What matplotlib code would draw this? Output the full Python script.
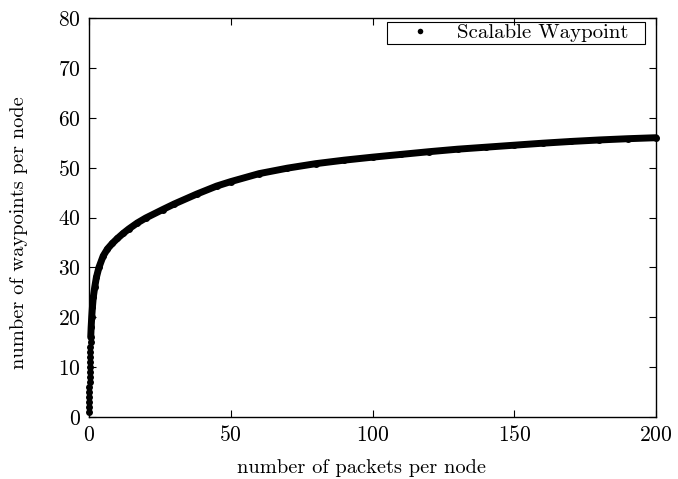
import numpy as np
import matplotlib.pyplot as plt
from matplotlib.patches import Rectangle

# values
packets = [0, 0.02, 0.05, 0.08, 0.1, 0.13, 0.17, 0.2, 0.24, 0.28, 0.32, 0.37,
           0.42, 0.48, 0.54, 0.6, 0.75, 0.95, 1.2, 1.5, 2.0, 2.6, 3.5, 5, 6.5,
           8.2, 10, 12, 14, 17, 20, 26, 30, 38, 45, 50, 60, 70, 80, 90, 100,
           110, 120, 130, 140, 150, 160, 170, 180, 190, 200]
waypoints = [1, 2, 3, 4, 5, 6, 7, 8, 9, 10, 11, 12,
             13, 14, 15, 16, 18, 20, 22, 24, 26, 28, 30, 32.3, 33.7,
             34.8, 35.8, 36.8, 37.7, 38.9, 39.9, 41.6, 42.7, 44.7, 46.3, 47.2, 48.8, 49.9, 50.8, 51.5, 52.1,
             52.65, 53.2, 53.7, 54.1, 54.5, 54.9, 55.25, 55.55, 55.8, 56.0]
xticks = [0, 50, 100, 150, 200]
yticks = [0, 10, 20, 30, 40, 50, 60, 70, 80]

plt.rcParams['font.family'] = 'cmr10'
plt.rcParams['axes.formatter.use_mathtext'] = True
plt.rcParams['mathtext.fontset'] = 'cm'

x = np.array(packets)
y = np.array(waypoints)

fig = plt.figure(figsize=(6.78, 4.79), dpi=100)
ax = fig.add_axes([0.1313, 0.1294, 0.9676 - 0.1313, 0.9624 - 0.1294])

# dense part of the curve looks like a solid thick band of dots
dense = y >= 16
ax.plot(x[dense], y[dense], '-', color='black', linewidth=5.0,
        solid_capstyle='round', solid_joinstyle='round', clip_on=False)
ax.plot(x, y, 'o', color='black', markersize=5.0, markeredgewidth=0,
        clip_on=False, label='Scalable Waypoint')

ax.set_xlim(0, 200)
ax.set_ylim(0, 80)
ax.set_xticks(xticks)
ax.set_yticks(yticks)
ax.tick_params(direction='in', length=5, width=0.8, top=True, right=True,
               labelsize=15.5, pad=6)
for s in ax.spines.values():
    s.set_linewidth(1.0)

ax.set_xlabel('number of packets per node', fontsize=14.7)
ax.xaxis.set_label_coords(0.48, -0.105)
ax.set_ylabel('number of waypoints per node', fontsize=14.7)
ax.yaxis.set_label_coords(-0.1076, 0.461)

leg = ax.legend(loc='center right', fontsize=15, frameon=False,
                markerscale=0.8, handlelength=2.0, handletextpad=0.78,
                borderpad=0, borderaxespad=0, bbox_to_anchor=(0.9506, 0.9624))
# legend box drawn separately to match the wide padding of the original
ax.add_patch(Rectangle((0.5256, 0.9348), 0.9806 - 0.5256, 0.990 - 0.9348,
                       transform=ax.transAxes, fill=False, edgecolor='black',
                       linewidth=0.8, clip_on=False))

fig.savefig('out.png', dpi=100)
